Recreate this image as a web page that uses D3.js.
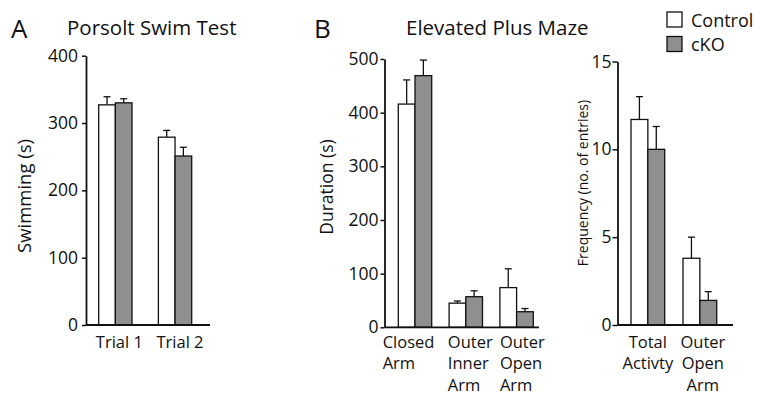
<!DOCTYPE html>
<html>
<head>
<meta charset="utf-8">
<script src="https://cdn.jsdelivr.net/npm/d3@7"></script>
<style>
  body { margin: 0; background: #fff; }
  svg { display: block; font-family: "Open Sans", sans-serif; }
</style>
</head>
<body>
<svg id="chart"></svg>
<script>
// data
const groups = ["Control", "cKO"];

// A: Porsolt swim test
const swimCats = ["Trial 1", "Trial 2"];
const swimTicks = [0, 100, 200, 300, 400];
const swimControl = [327, 279];
const swimControlErr = [12, 10];
const swimCko = [330, 251];
const swimCkoErr = [6, 13];

// B: elevated plus maze, duration
const durCats = ["Closed Arm", "Outer Inner Arm", "Outer Open Arm"];
const durTicks = [0, 100, 200, 300, 400, 500];
const durControl = [416, 45, 74];
const durControlErr = [45, 4, 35];
const durCko = [469, 57, 29];
const durCkoErr = [29, 11, 6];

// B: elevated plus maze, frequency
const freqCats = ["Total Activty", "Outer Open Arm"];
const freqTicks = [0, 5, 10, 15];
const freqControl = [11.7, 3.8];
const freqControlErr = [1.3, 1.2];
const freqCko = [10.0, 1.4];
const freqCkoErr = [1.3, 0.5];

const fills = { "Control": "#ffffff", "cKO": "#8f8f8f" };
const ink = "#111";

const svg = d3.select("#chart").attr("width", 757).attr("height", 394);

function drawPanel(p) {
  const y = d3.scaleLinear().domain([0, p.yMax]).range([p.y0, p.y1]);
  const x = d3.scaleBand().domain(p.cats).range([p.barStart, p.barEnd]).paddingInner(p.padInner);
  const sub = d3.scaleBand().domain(groups).range([0, x.bandwidth()]);

  const rows = p.cats.flatMap((c, i) => [
    { cat: c, grp: "Control", v: p.ctrl[i], e: p.ctrlErr[i] },
    { cat: c, grp: "cKO", v: p.cko[i], e: p.ckoErr[i] }
  ]);

  const g = svg.append("g");

  // error bars (upper only)
  const eb = g.selectAll(".err").data(rows).enter().append("g").attr("class", "err")
    .attr("stroke", ink).attr("stroke-width", 1.3);
  eb.append("line")
    .attr("x1", d => x(d.cat) + sub(d.grp) + sub.bandwidth() / 2)
    .attr("x2", d => x(d.cat) + sub(d.grp) + sub.bandwidth() / 2)
    .attr("y1", d => y(d.v))
    .attr("y2", d => y(d.v + d.e));
  eb.append("line")
    .attr("x1", d => x(d.cat) + sub(d.grp) + sub.bandwidth() / 2 - 3.5)
    .attr("x2", d => x(d.cat) + sub(d.grp) + sub.bandwidth() / 2 + 3.5)
    .attr("y1", d => y(d.v + d.e))
    .attr("y2", d => y(d.v + d.e));

  g.selectAll(".bar").data(rows).enter().append("rect")
    .attr("class", "bar")
    .attr("x", d => x(d.cat) + sub(d.grp))
    .attr("y", d => y(d.v))
    .attr("width", sub.bandwidth())
    .attr("height", d => y(0) - y(d.v))
    .attr("fill", d => fills[d.grp])
    .attr("stroke", ink)
    .attr("stroke-width", 1.3);

  // y axis
  const ya = g.append("g")
    .attr("transform", `translate(${p.axisX},0)`)
    .call(d3.axisLeft(y).tickValues(p.ticks).tickSize(p.tickSize).tickSizeOuter(0).tickPadding(p.tickPad));
  ya.select(".domain").attr("stroke", ink).attr("stroke-width", 1.8);
  ya.selectAll(".tick line").attr("stroke", ink).attr("stroke-width", 1.5);
  ya.selectAll(".tick text")
    .attr("fill", ink)
    .style("font-family", "'Open Sans', sans-serif")
    .style("font-size", "17.5px");

  // x baseline
  g.append("line")
    .attr("x1", p.axisX).attr("x2", p.axisEnd)
    .attr("y1", y(0)).attr("y2", y(0))
    .attr("stroke", ink).attr("stroke-width", 1.8);

  // category labels (multi-line)
  p.cats.forEach((c, i) => {
    const lines = p.labels[i];
    const t = g.append("text")
      .attr("fill", ink)
      .attr("font-size", 16.5)
      .attr("text-anchor", p.labelAnchor);
    const lx = p.labelAnchor === "start"
      ? x(c) + p.labelDx[i]
      : x(c) + x.bandwidth() / 2 + p.labelDx[i];
    lines.forEach((ln, k) => {
      t.append("tspan").attr("x", lx).attr("y", 347.5 + k * 21.5).text(ln);
    });
  });

  // y title
  g.append("text")
    .attr("transform", `translate(${p.yTitleX},${p.yTitleY}) rotate(-90)`)
    .attr("text-anchor", "middle")
    .attr("fill", ink)
    .attr("font-size", p.yTitleSize)
    .text(p.yTitle);
}

drawPanel({
  cats: swimCats, labels: [["Trial 1"], ["Trial 2"]],
  ctrl: swimControl, ctrlErr: swimControlErr, cko: swimCko, ckoErr: swimCkoErr,
  yMax: 400, ticks: swimTicks, y0: 325, y1: 55.7,
  axisX: 86, axisEnd: 210, barStart: 98.7, barEnd: 191.7, padInner: 0.442,
  tickSize: 4, tickPad: 4,
  labelAnchor: "middle", labelDx: [4, 5],
  yTitle: "Swimming (s)", yTitleX: 31, yTitleY: 196, yTitleSize: 18.5
});

drawPanel({
  cats: durCats, labels: [["Closed", "Arm"], ["Outer", "Inner", "Arm"], ["Outer", "Open", "Arm"]],
  ctrl: durControl, ctrlErr: durControlErr, cko: durCko, ckoErr: durCkoErr,
  yMax: 500, ticks: durTicks, y0: 327.3, y1: 59,
  axisX: 384.5, axisEnd: 539, barStart: 398.3, barEnd: 533.3, padInner: 0.3425,
  tickSize: 4, tickPad: 2,
  labelAnchor: "start", labelDx: [-15.6, -1.3, 0],
  yTitle: "Duration (s)", yTitleX: 333, yTitleY: 187, yTitleSize: 17.5
});

drawPanel({
  cats: freqCats, labels: [["Total", "Activty"], ["Outer", "Open", "Arm"]],
  ctrl: freqControl, ctrlErr: freqControlErr, cko: freqCko, ckoErr: freqCkoErr,
  yMax: 15, ticks: freqTicks, y0: 325, y1: 61.5,
  axisX: 617.5, axisEnd: 733, barStart: 631, barEnd: 716.7, padInner: 0.352,
  tickSize: 5, tickPad: 1,
  labelAnchor: "middle", labelDx: [0, 3],
  yTitle: "Frequency  (no. of entries)", yTitleX: 588, yTitleY: 183, yTitleSize: 14
});

// panel letters and titles
svg.append("text").attr("x", 11).attr("y", 37.7).attr("font-size", 26).attr("fill", ink).text("A");
svg.append("text").attr("x", 67).attr("y", 34.5).attr("font-size", 20.5).attr("fill", ink).text("Porsolt Swim Test");
svg.append("text").attr("x", 314).attr("y", 37.7).attr("font-size", 26).attr("fill", ink).text("B");
svg.append("text").attr("x", 406).attr("y", 35).attr("font-size", 20.5).attr("fill", ink).text("Elevated Plus Maze");

// legend
const legend = svg.append("g").attr("transform", "translate(667,12)");
groups.forEach((grp, i) => {
  const row = legend.append("g").attr("transform", `translate(0,${i * 24.5})`);
  row.append("rect")
    .attr("width", 15).attr("height", 15)
    .attr("fill", fills[grp]).attr("stroke", ink).attr("stroke-width", 1.3);
  row.append("text")
    .attr("x", 24).attr("y", 14.5)
    .attr("font-size", 18).attr("fill", ink)
    .text(grp);
});
</script>
</body>
</html>
